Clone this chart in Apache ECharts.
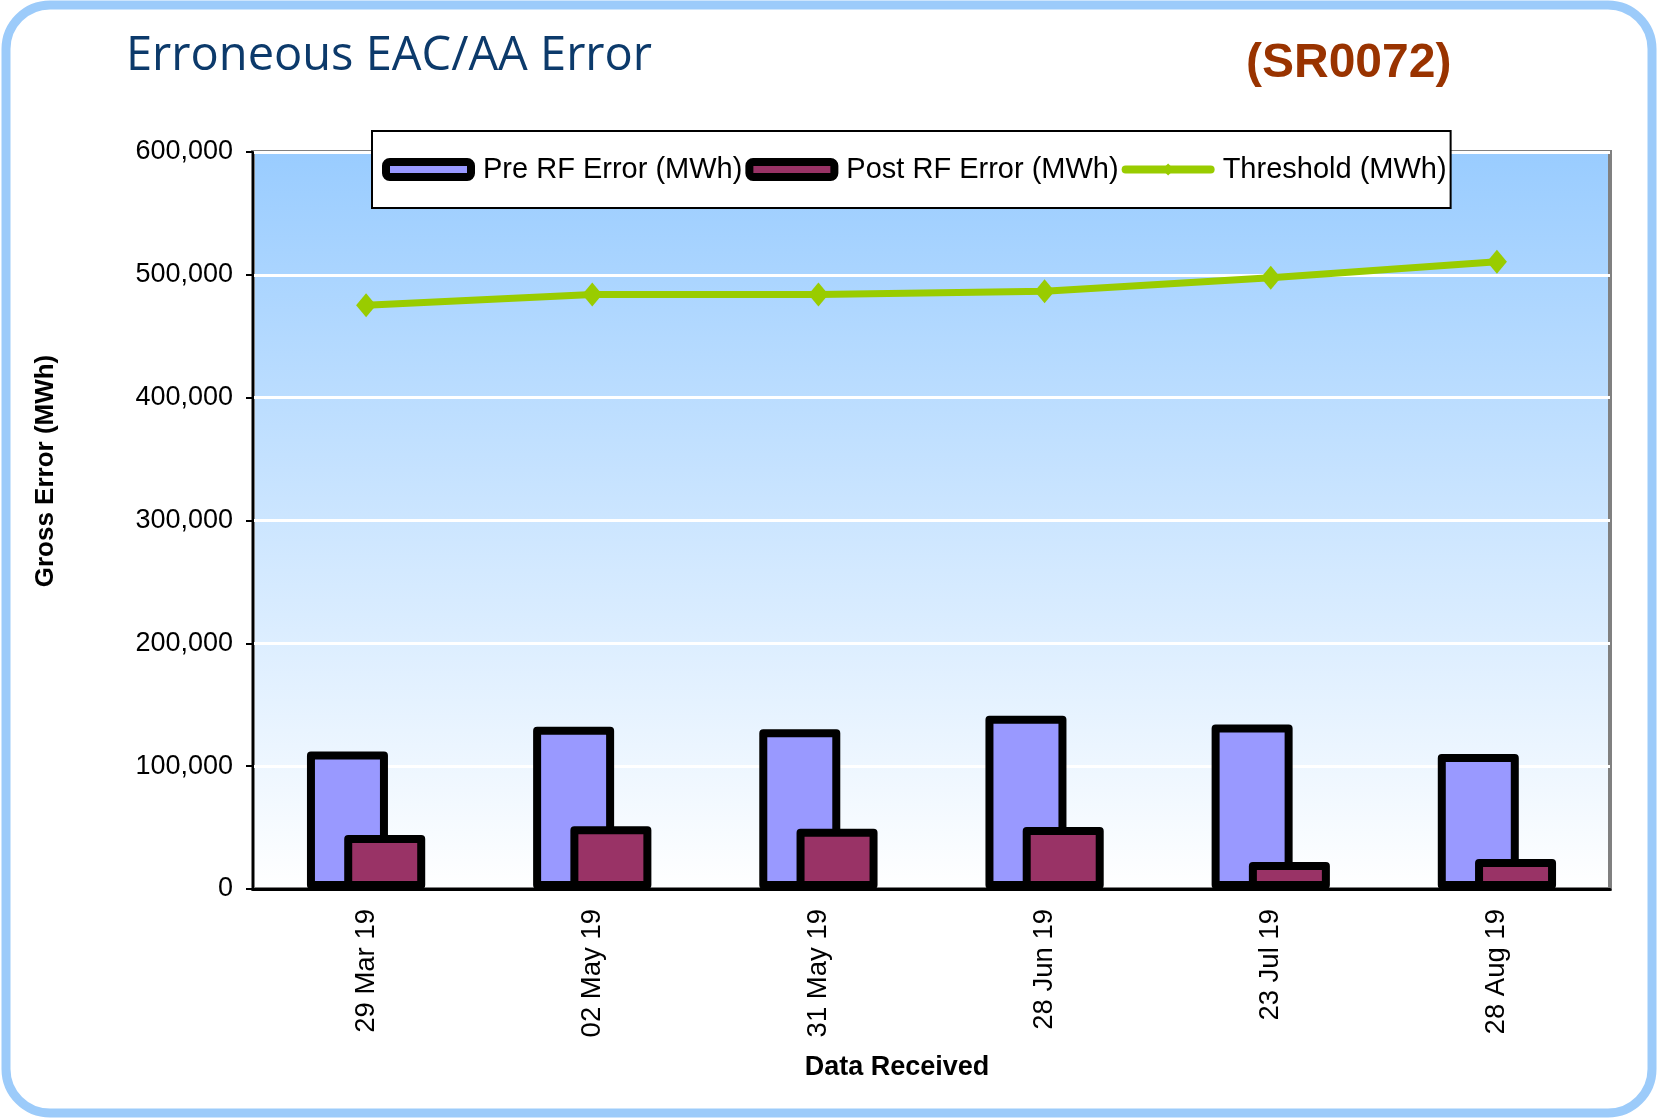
<!DOCTYPE html>
<html>
<head>
<meta charset="utf-8">
<title>Erroneous EAC/AA Error</title>
<script src="https://cdn.jsdelivr.net/npm/echarts@6/dist/echarts.min.js"></script>
<style>
  html, body { margin: 0; padding: 0; background: #fff; }
  #main { width: 1659px; height: 1118px; }
</style>
</head>
<body>
<div id="main"></div>
<script>
// data
var categories = ['29 Mar 19', '02 May 19', '31 May 19', '28 Jun 19', '23 Jul 19', '28 Aug 19'];
var preRF = [112000, 132000, 130000, 141000, 134000, 110000];
var postRF = [44000, 51000, 49000, 50500, 22000, 24400];
var threshold = [475200, 484000, 484000, 486600, 497600, 510600];
var seriesNames = ['Pre RF Error (MWh)', 'Post RF Error (MWh)', 'Threshold (MWh)'];

var FONT = "'Liberation Sans', Arial, sans-serif";

var chart = echarts.init(document.getElementById('main'));

var option = {
  animation: false,
  backgroundColor: '#ffffff',
  // 外框 + 标题 + 轴名
  graphic: [
    {
      type: 'rect',
      shape: { x: 6, y: 5, width: 1646, height: 1108, r: 44 },
      style: { fill: 'none', stroke: '#9CCBFA', lineWidth: 9 },
      silent: true
    },
    {
      type: 'text',
      left: 126, top: 33,
      style: { text: 'Erroneous EAC/AA Error', font: "47px 'Open Sans', 'DejaVu Sans', sans-serif", fill: '#0C3A6B' }
    },
    {
      type: 'text',
      left: 1246, top: 40,
      style: { text: '(SR0072)', font: 'bold 48px ' + FONT, fill: '#993300' }
    },
    {
      type: 'text',
      x: 46, y: 471, rotation: Math.PI / 2,
      style: { text: 'Gross Error (MWh)', font: 'bold 26px ' + FONT, fill: '#000', align: 'center', verticalAlign: 'middle' }
    },
    {
      type: 'text',
      x: 897, y: 1068,
      style: { text: 'Data Received', font: 'bold 27px ' + FONT, fill: '#000', align: 'center', verticalAlign: 'middle' }
    }
  ],
  legend: {
    left: 372,
    top: 131,
    padding: [24, 4, 24, 10],
    itemWidth: 85,
    itemHeight: 15,
    itemGap: 3,
    backgroundColor: '#ffffff',
    borderColor: '#000000',
    borderWidth: 2,
    textStyle: { fontFamily: FONT, fontSize: 29, color: '#000', padding: [0, 0, 0, 7] },
    data: [
      { name: seriesNames[0], icon: 'roundRect', itemStyle: { borderWidth: 8, borderColor: '#000' } },
      { name: seriesNames[1], icon: 'roundRect', itemStyle: { borderWidth: 8, borderColor: '#000' } },
      { name: seriesNames[2], itemStyle: { borderWidth: 0 }, lineStyle: { width: 8, cap: 'round' } }
    ]
  },
  grid: {
    left: 253,
    right: 49,
    top: 152,
    bottom: 229,
    show: true,
    borderColor: '#808080',
    borderWidth: 4,
    backgroundColor: new echarts.graphic.LinearGradient(0, 0, 0, 1, [
      { offset: 0, color: '#99CCFF' },
      { offset: 1, color: '#FFFFFF' }
    ])
  },
  xAxis: {
    type: 'category',
    data: categories,
    axisLine: { lineStyle: { color: '#000', width: 3 } },
    axisTick: { length: 7, lineStyle: { color: '#000', width: 2 } },
    axisLabel: { rotate: 90, margin: 20, fontFamily: FONT, fontSize: 27.5, color: '#000' }
  },
  yAxis: {
    type: 'value',
    min: 0,
    max: 600000,
    interval: 100000,
    axisLine: { show: true, lineStyle: { color: '#000', width: 2 } },
    axisTick: { show: true, length: 7, lineStyle: { color: '#000', width: 2 } },
    splitLine: { lineStyle: { color: '#ffffff', width: 3 } },
    axisLabel: {
      margin: 20, fontFamily: FONT, fontSize: 27, color: '#000',
      formatter: function (v) { return v.toLocaleString('en-US'); }
    }
  },
  series: [
    {
      name: seriesNames[0],
      type: 'bar',
      data: preRF,
      barWidth: 81,
      barGap: '-54%',
      itemStyle: { color: '#9999FF', borderColor: '#000', borderWidth: 8, borderJoin: 'round' }
    },
    {
      name: seriesNames[1],
      type: 'bar',
      data: postRF,
      barWidth: 81,
      itemStyle: { color: '#993366', borderColor: '#000', borderWidth: 8, borderJoin: 'round' }
    },
    {
      name: seriesNames[2],
      type: 'line',
      data: threshold,
      z: 5,
      symbol: 'diamond',
      symbolSize: [20, 24],
      color: '#99CC00',
      lineStyle: { color: '#99CC00', width: 7 },
      itemStyle: { color: '#99CC00' }
    }
  ]
};

chart.setOption(option);
</script>
</body>
</html>
